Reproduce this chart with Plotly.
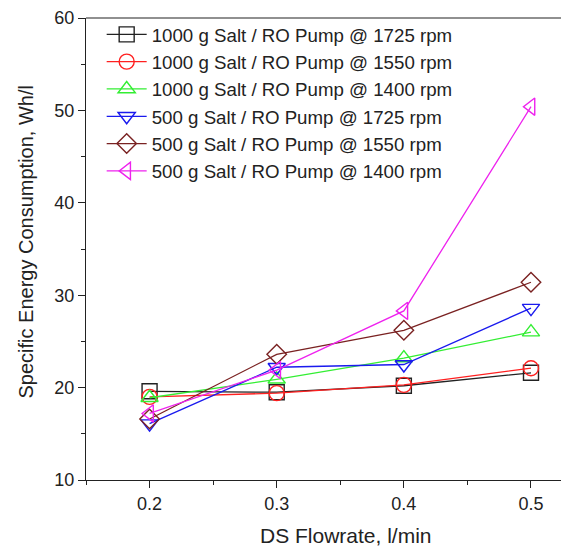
import plotly.graph_objects as go

flowrate = [0.2, 0.3, 0.4, 0.5]
names = [
    "1000 g Salt / RO Pump @ 1725 rpm",
    "1000 g Salt / RO Pump @ 1550 rpm",
    "1000 g Salt / RO Pump @ 1400 rpm",
    "500 g Salt / RO Pump @ 1725 rpm",
    "500 g Salt / RO Pump @ 1550 rpm",
    "500 g Salt / RO Pump @ 1400 rpm",
]
s1000_1725 = [19.6, 19.5, 20.2, 21.6]
s1000_1550 = [19.0, 19.4, 20.3, 22.1]
s1000_1400 = [18.9, 20.9, 23.2, 26.0]
s500_1725 = [16.1, 22.2, 22.5, 28.6]
s500_1550 = [16.6, 23.6, 26.2, 31.4]
s500_1400 = [17.2, 21.9, 28.3, 50.4]

series = [s1000_1725, s1000_1550, s1000_1400, s500_1725, s500_1550, s500_1400]
colors = ["#222222", "#ff2020", "#33ee33", "#1a1aee", "#7a2222", "#ee22ee"]
symbols = ["square-open", "circle-open", "triangle-up-open", "triangle-down-open",
           "diamond-open", "triangle-left-open"]

FONT = "Liberation Sans, Arial"

fig = go.Figure()
for n, s, c, sym in zip(names, series, colors, symbols):
    fig.add_trace(go.Scatter(
        x=flowrate, y=s, name=n, mode="lines+markers",
        line=dict(color=c, width=1.3),
        marker=dict(symbol=sym, size=15, color=c, line=dict(width=1.4, color=c)),
    ))

axis_common = dict(
    showgrid=False, zeroline=False, showline=True, linecolor="#222", linewidth=1.2,
    ticks="outside", ticklen=7, tickwidth=1.2, tickcolor="#222", automargin=False,
    tickfont=dict(family=FONT, size=18, color="#222"),
)

fig.update_xaxes(
    range=[0.15, 0.5236], tickvals=[0.2, 0.3, 0.4, 0.5], ticktext=["0.2", "0.3", "0.4", "0.5"],
    minor=dict(tickvals=[0.15, 0.25, 0.35, 0.45], ticks="outside", ticklen=4, tickcolor="#222"),
    **axis_common,
)
fig.update_yaxes(
    range=[10, 60], tickvals=[10, 20, 30, 40, 50, 60],
    minor=dict(tickvals=[15, 25, 35, 45, 55], ticks="outside", ticklen=4, tickcolor="#222"),
    **axis_common,
)

# top frame line
fig.add_shape(type="line", xref="paper", yref="paper", x0=0, x1=1, y0=1, y1=1,
              line=dict(color="#222", width=1.2))

fig.add_annotation(text="DS Flowrate, l/min", xref="x", yref="paper",
                   x=0.35, y=0, xshift=5.5, yshift=-55, yanchor="middle", showarrow=False,
                   font=dict(family=FONT, size=21, color="#222"))
fig.add_annotation(text="Specific Energy Consumption, Wh/l", xref="paper", yref="y",
                   x=0, y=35.7, xshift=-60, xanchor="center", yanchor="middle", textangle=-90,
                   showarrow=False, font=dict(family=FONT, size=20, color="#222"))

fig.update_layout(
    width=561, height=547,
    margin=dict(l=86, r=0, t=18, b=67),
    plot_bgcolor="white", paper_bgcolor="white",
    legend=dict(x=0.033, y=1.005, xanchor="left", yanchor="top",
                font=dict(family=FONT, size=18.7, color="#222"),
                bgcolor="rgba(0,0,0,0)", tracegroupgap=0, itemwidth=40),
    showlegend=True,
)

fig.write_html("out.html", config={"displayModeBar": False},
               post_script="document.body.style.margin='0';document.body.style.overflow='hidden';")
